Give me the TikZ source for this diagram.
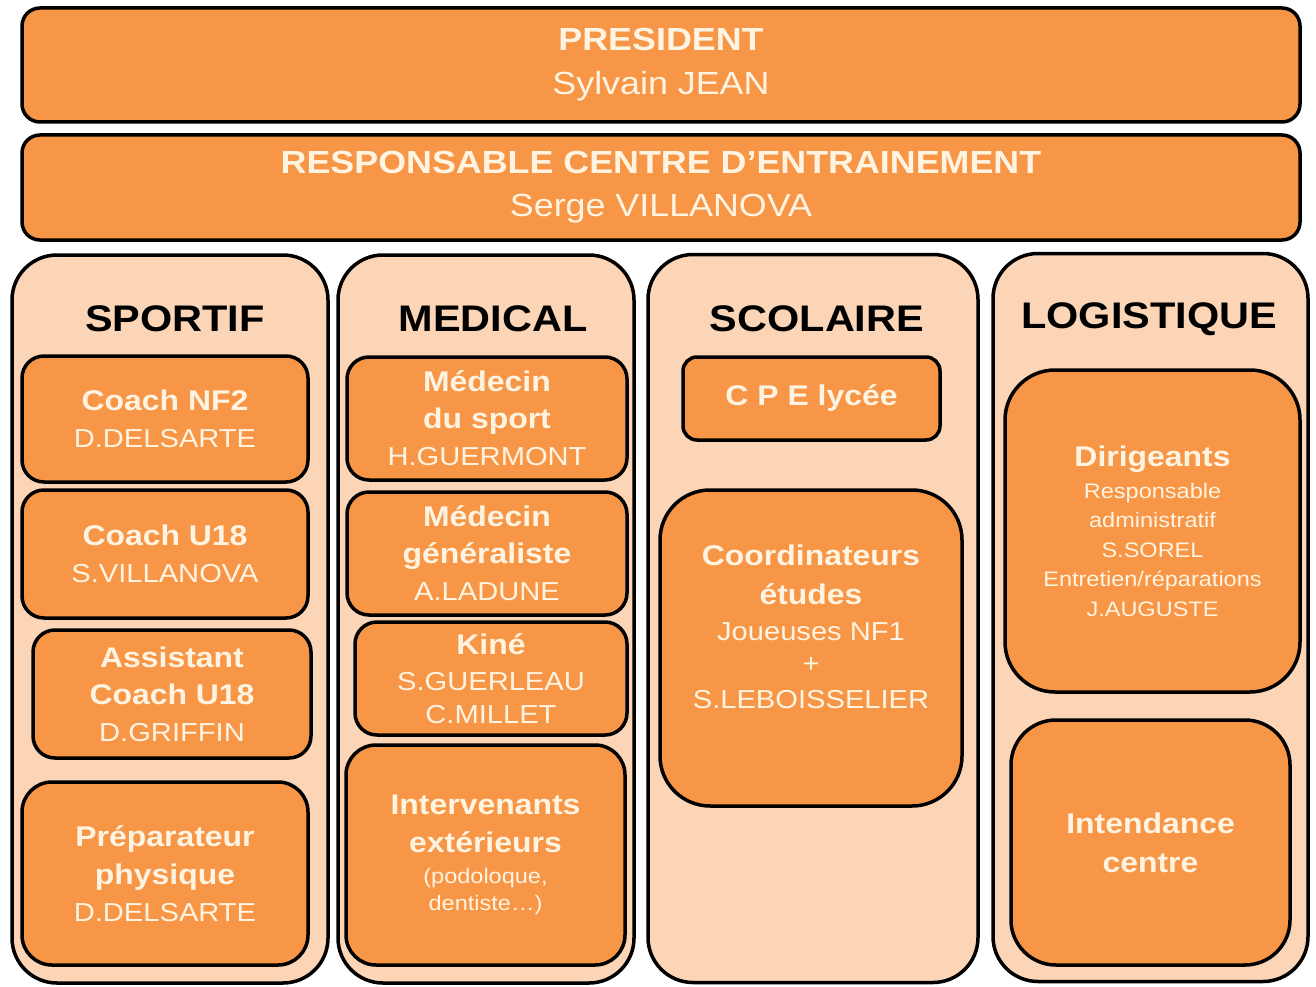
\documentclass[tikz,border=0pt]{standalone}
\usepackage{fontspec}
\setmainfont{Liberation Sans}[FakeStretch=1.12]

\definecolor{orgorange}{HTML}{F79646}
\definecolor{orglight}{HTML}{FBD5B6}
\definecolor{orgtext}{HTML}{FFF4E2}

\newcommand{\boxtitle}[1]{{\bfseries\fontsize{28.5}{36}\selectfont #1}}

\begin{document}
\begin{tikzpicture}[x=1pt,y=-1pt,
  bar/.style={draw=black, line width=3.5pt, rounded corners=18pt, fill=orgorange, text=orgtext, align=center, minimum width=1278pt, font=\fontsize{32}{44}\selectfont},
  column/.style={draw=black, line width=3.5pt, rounded corners=45pt, fill=orglight, minimum height=728pt},
  head/.style={font=\bfseries\fontsize{37}{44}\selectfont, text=black},
  unit/.style={draw=black, line width=3.5pt, rounded corners=22pt, fill=orgorange, text=orgtext, align=center, inner sep=0pt, font=\fontsize{26}{37}\selectfont}]

\useasboundingbox (0,0) rectangle (1316,987);

%%%%%%%%%%%%%%%%%%%% Direction %%%%%%%%%%%%%%%%%%%%%%%%%%

\node[bar, minimum height=114pt] (president) at (661,65) {\textbf{PRESIDENT}\\Sylvain JEAN};

\node[bar, minimum height=105pt] (centre) at (661,187.5) {\textbf{RESPONSABLE CENTRE D’ENTRAINEMENT}\\[-1pt]Serge VILLANOVA};

%%%%%%%%%%%%%%%%%%%% Poles %%%%%%%%%%%%%%%%%%%%%%%%%%

%pole frames
\node[column, minimum width=316pt] (sportif) at (170,619) {};
\node[column, minimum width=296pt] (medical) at (486,619) {};
\node[column, minimum width=330pt] (scolaire) at (813,618.5) {};
\node[column, minimum width=315pt] (logistique) at (1150.5,617.5) {};

%pole titles
\node[head] (hsportif) at (175,318.5) {SPORTIF};
\node[head] (hmedical) at (493,318.5) {MEDICAL};
\node[head] (hscolaire) at (817,318.5) {SCOLAIRE};
\node[head] (hlogistique) at (1149,319.5) {LOGISTIQUE};

%sportif
\node[unit, minimum width=286pt, minimum height=126pt] (nf2) at (165,419) {\boxtitle{Coach NF2}\\D.DELSARTE};
\node[unit, minimum width=286pt, minimum height=128pt] (u18) at (165,554) {\boxtitle{Coach U18}\\S.VILLANOVA};
\node[unit, minimum width=278pt, minimum height=128pt] (assistant) at (172,694) {\boxtitle{Assistant}\\\boxtitle{Coach U18}\\D.GRIFFIN};
\node[unit, minimum width=286pt, minimum height=183pt, rounded corners=30pt] (preparateur) at (165,873.5) {\boxtitle{Préparateur}\\[1pt]\boxtitle{physique}\\D.DELSARTE};

%medical
\node[unit, minimum width=280pt, minimum height=123pt] (msport) at (487,418.5) {\boxtitle{Médecin}\\\boxtitle{du sport}\\H.GUERMONT};
\node[unit, minimum width=280pt, minimum height=123pt] (mgen) at (487,553.5) {\boxtitle{Médecin}\\\boxtitle{généraliste}\\A.LADUNE};
\node[unit, minimum width=272pt, minimum height=113pt] (kine) at (491,678.5) {\boxtitle{Kiné}\\[-1pt]S.GUERLEAU\\[-4pt]C.MILLET};
\node[unit, minimum width=279pt, minimum height=220pt, rounded corners=30pt, font=\fontsize{21}{27}\selectfont] (intervenants) at (485.5,855) {\boxtitle{Intervenants}\\[11pt]\boxtitle{extérieurs}\\[4pt](podoloque,\\dentiste…)};

%scolaire
\node[unit, minimum width=257pt, minimum height=83pt, rounded corners=14pt] (cpe) at (811.5,398.5) {\boxtitle{C P E lycée}};
\node[unit, minimum width=302pt, minimum height=316pt, rounded corners=50pt, text depth=42pt] (coordinateurs) at (811,648) {\boxtitle{Coordinateurs}\\[2pt]\boxtitle{études}\\[-1pt]Joueuses NF1\\[-5pt]+\\[-1pt]S.LEBOISSELIER};

%logistique
\node[unit, minimum width=295pt, minimum height=322pt, rounded corners=50pt, font=\fontsize{21}{29.5}\selectfont] (dirigeants) at (1152.5,531) {\boxtitle{Dirigeants}\\[2.5pt]Responsable\\administratif\\S.SOREL\\Entretien/réparations\\J.AUGUSTE};
\node[unit, minimum width=279pt, minimum height=245pt, rounded corners=45pt] (intendance) at (1150.5,842.5) {\boxtitle{Intendance}\\[2pt]\boxtitle{centre}};

\end{tikzpicture}
\end{document}
